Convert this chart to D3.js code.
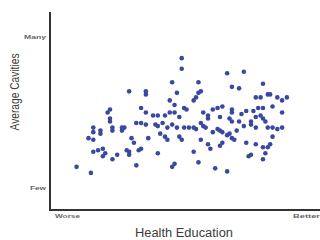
<!DOCTYPE html>
<html>
<head>
<meta charset="UTF-8">
<title>Health Education vs Average Cavities</title>
<script src="https://d3js.org/d3.v7.min.js"></script>
<style>
  body { margin: 0; background: #fff; }
  svg { display: block; font-family: "Liberation Sans", Arial, sans-serif; }
  .dot { fill: #3a489f; }
  .frame { stroke: #333; stroke-width: 2; fill: none; }
  .tick text { fill: #666; font-weight: bold; font-size: 6px; }
  .title { fill: #3c3c3c; font-size: 12.5px; }
</style>
</head>
<body>
<script>
// scores: 0 = worse / few, 100 = better / many
var education = [48, 48, 44, 26, 33, 33, 46, 43, 45, 18, 17, 31, 33, 36, 38, 41, 43, 45, 49, 18,
  18, 19, 19, 11, 11, 14, 14, 23, 23, 24, 29, 31, 33, 37, 38, 40, 42, 44, 46, 49,
  9, 11, 27, 28, 34, 39, 41, 42, 47, 48, 11, 13, 15, 16, 15, 19, 21, 25, 26, 26,
  31, 30, 38, 4, 10, 29, 44, 45, 67, 74, 55, 69, 72, 82, 56, 55, 54, 53, 79, 81,
  84, 85, 88, 90, 92, 50, 61, 63, 65, 69, 69, 73, 75, 78, 80, 82, 86, 90, 57, 59,
  59, 64, 68, 69, 72, 77, 79, 81, 82, 83, 47, 51, 53, 54, 56, 57, 58, 61, 63, 64,
  65, 67, 68, 69, 70, 71, 74, 77, 79, 84, 86, 88, 90, 56, 59, 60, 64, 65, 75, 79,
  82, 84, 85, 86, 53, 76, 83, 82, 55, 62, 67, 77];
var cavities = [86, 79, 70, 64, 64, 62, 63, 58, 55, 52, 50, 53, 50, 48, 48, 48, 50, 50, 53, 46,
  44, 40, 38, 40, 37, 38, 36, 40, 38, 40, 43, 43, 42, 42, 41, 43, 40, 42, 40, 40,
  33, 32, 33, 30, 33, 36, 34, 32, 34, 32, 24, 25, 26, 23, 21, 19, 22, 25, 22, 24,
  26, 25, 23, 14, 10, 15, 14, 16, 76, 77, 70, 67, 66, 69, 64, 63, 60, 58, 60, 60,
  62, 62, 60, 58, 60, 52, 52, 53, 54, 52, 50, 49, 51, 51, 53, 53, 54, 50, 50, 48,
  46, 47, 46, 44, 44, 44, 47, 48, 46, 44, 47, 40, 40, 39, 43, 41, 40, 37, 39, 38,
  37, 35, 36, 33, 32, 38, 41, 42, 40, 40, 40, 39, 40, 32, 29, 26, 28, 30, 30, 29,
  27, 27, 29, 34, 24, 21, 23, 19, 17, 13, 11, 22];
var yTickLabels = ["Few", "Many"];
var xTickLabels = ["Worse", "Better"];

var W = 320, H = 240;
var svg = d3.select("body").append("svg").attr("width", W).attr("height", H);

var x = d3.scaleLinear().domain([0, 100]).range([67, 306]);
var y = d3.scaleLinear().domain([0, 100]).range([188, 37]);

// frame lines
svg.append("path").attr("class", "frame")
  .attr("d", "M50,12 V210 H320");

var yAxis = svg.append("g").attr("transform", "translate(46,0)")
  .call(d3.axisLeft(y).tickValues([0, 100]).tickSize(0).tickPadding(0)
    .tickFormat(function (d, i) { return yTickLabels[i]; }));
yAxis.select(".domain").remove();
yAxis.selectAll("text").attr("dy", "0.32em")
  .attr("textLength", function (d, i) { return i ? 22 : 16; })
  .attr("lengthAdjust", "spacingAndGlyphs");

var xAxis = svg.append("g").attr("transform", "translate(0,214)")
  .call(d3.axisBottom(x).tickValues([0, 100]).tickSize(0).tickPadding(0)
    .tickFormat(function (d, i) { return xTickLabels[i]; }));
xAxis.select(".domain").remove();
xAxis.selectAll("text")
  .attr("textLength", function (d, i) { return i ? 27 : 25; })
  .attr("lengthAdjust", "spacingAndGlyphs");

svg.append("g").selectAll("circle")
  .data(education)
  .enter().append("circle")
  .attr("class", "dot")
  .attr("cx", function (d) { return x(d); })
  .attr("cy", function (d, i) { return y(cavities[i]); })
  .attr("r", 2.3);

svg.append("text").attr("class", "title")
  .attr("x", 184).attr("y", 237)
  .attr("text-anchor", "middle")
  .attr("textLength", 98).attr("lengthAdjust", "spacingAndGlyphs")
  .text("Health Education");

svg.append("text").attr("class", "title")
  .attr("transform", "translate(19,92) rotate(-90)")
  .attr("text-anchor", "middle")
  .attr("textLength", 77).attr("lengthAdjust", "spacingAndGlyphs")
  .text("Average Cavities");
</script>
</body>
</html>
